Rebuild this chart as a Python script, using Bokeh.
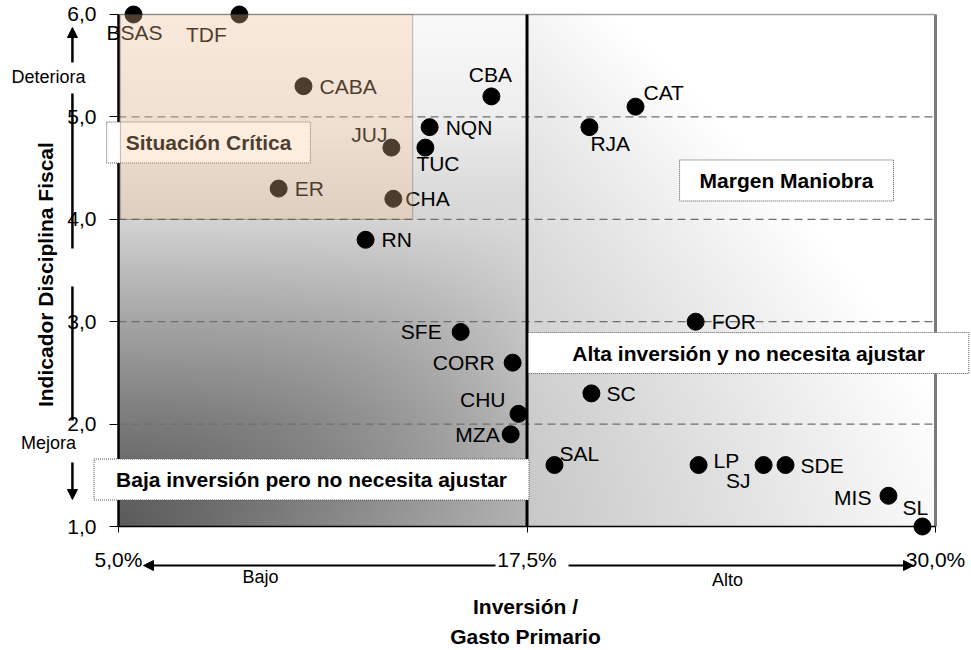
import math
import numpy as np
from bokeh.plotting import figure
from bokeh.models import (Range1d, FixedTicker, ColumnDataSource, Label, LabelSet,
                          Arrow, NormalHead, BoxAnnotation)
from bokeh.core.properties import value
from bokeh.embed import file_html
from bokeh.resources import INLINE

# ---------------- data ----------------
provinces = ["BSAS", "TDF", "CABA", "CBA", "CAT", "NQN", "RJA", "JUJ", "TUC", "ER", "CHA", "RN",
             "FOR", "SFE", "CORR", "SC", "CHU", "MZA", "SAL", "LP", "SJ", "SDE", "MIS", "SL"]
inversion = [5.46, 8.70, 10.66, 16.41, 20.82, 14.52, 19.41, 13.35, 14.39, 9.90, 13.41, 12.56,
             22.66, 15.47, 17.06, 19.47, 17.24, 17.00, 18.34, 22.75, 24.74, 25.41, 28.56, 29.60]
disciplina = [6.0, 6.0, 5.3, 5.2, 5.1, 4.9, 4.9, 4.7, 4.7, 4.3, 4.2, 3.8,
              3.0, 2.9, 2.6, 2.3, 2.1, 1.9, 1.6, 1.6, 1.6, 1.6, 1.3, 1.0]
x_ticks = [5.0, 17.5, 30.0]
x_tick_labels = ["5,0%", "17,5%", "30,0%"]
y_ticks = [1, 2, 3, 4, 5, 6]
y_tick_labels = ["1,0", "2,0", "3,0", "4,0", "5,0", "6,0"]
grid_ticks = [2, 3, 4, 5]
x_split = 17.5                      # vertical divider
critical_x, critical_y = 14.0, 4.0  # "Situación Crítica" zone

# ---------------- label styling (align, dx px, dy px up) ----------------
label_style = {
    "BSAS": ("center", 1, -18), "TDF": ("center", -33, -20), "CABA": ("left", 16, 0),
    "CBA": ("center", -1, 22), "CAT": ("left", 8, 14), "NQN": ("left", 16, 0),
    "RJA": ("left", 1, -16), "JUJ": ("right", -4, 13), "TUC": ("left", -9, -16),
    "ER": ("left", 16, 0), "CHA": ("left", 12, 0), "RN": ("left", 16, 0),
    "FOR": ("left", 16, 0), "SFE": ("right", -19, 0), "CORR": ("right", -18, 0),
    "SC": ("left", 15, 0), "CHU": ("right", -13, 14), "MZA": ("right", -11, 0),
    "SAL": ("left", 5, 12), "LP": ("left", 15, 5), "SJ": ("right", -13, -15),
    "SDE": ("left", 15, 0), "MIS": ("right", -17, -2), "SL": ("center", -7, 19),
}

FONT = "Liberation Sans"

src = ColumnDataSource(dict(
    x=inversion, y=disciplina, name=provinces,
    align=[label_style[n][0] for n in provinces],
    dx=[label_style[n][1] for n in provinces],
    dy=[label_style[n][2] for n in provinces],
))

x0, x1 = x_ticks[0], x_ticks[-1]
y0, y1 = y_ticks[0], y_ticks[-1]

# the frame covers the whole canvas; axes are pinned to the data box
p = figure(width=971, height=650, output_backend="svg", toolbar_location=None,
           x_range=Range1d(1.389, 31.101), y_range=Range1d(-0.2109, 6.1367),
           min_border=0, min_border_left=0, min_border_right=0,
           min_border_top=0, min_border_bottom=0)
p.outline_line_color = None
p.background_fill_color = "white"
p.border_fill_color = "white"

# ---------------- background gradient (styling) ----------------
W, H = 500, 250
U, V = np.meshgrid((np.arange(W) + 0.5) / W, (np.arange(H) + 0.5) / H)
edge = np.interp(V, [0, 0.05, 0.2, 0.4, 0.6, 0.8, 1.0], [90, 96, 122, 165, 212, 238, 250])
M = 90 * np.clip(1 - V / 0.65, 0, 1)
k = 1 + 5 * V
left = edge + M * np.clip(2 * U, 0, 1) ** k
right = 200 + 100 * (U - 0.5) + 45 * V ** 1.5
I = np.clip(np.where(U < 0.5, left, right), 0, 255).astype(np.uint8)
img = np.empty((H, W), dtype=np.uint32)
view = img.view(dtype=np.uint8).reshape((H, W, 4))
view[..., 0] = I
view[..., 1] = I
view[..., 2] = I
view[..., 3] = 255
p.image_rgba(image=[img], x=x0, y=y0, dw=x1 - x0, dh=y1 - y0, level="image")

# ---------------- axes ----------------
p.xaxis.fixed_location = y0
p.yaxis.fixed_location = x0
p.xaxis.bounds = (x0, x1)
p.yaxis.bounds = (y0, y1)
p.xaxis.ticker = FixedTicker(ticks=x_ticks)
p.xaxis.major_label_overrides = dict(zip(x_ticks, x_tick_labels))
p.yaxis.ticker = FixedTicker(ticks=y_ticks)
p.yaxis.major_label_overrides = dict(zip(y_ticks, y_tick_labels))
for ax in (p.xaxis, p.yaxis):
    ax.axis_line_color = None
    ax.minor_tick_line_color = None
    ax.major_tick_line_color = "black"
    ax.major_tick_line_width = 1
    ax.major_label_text_font = FONT
    ax.major_label_text_font_size = "21px"
    ax.major_label_text_color = "black"
p.xaxis.major_tick_in = 0
p.xaxis.major_tick_out = 6
p.xaxis.major_label_standoff = 15
p.yaxis.major_tick_in = 0
p.yaxis.major_tick_out = 9
p.yaxis.major_label_standoff = 13

p.grid.visible = False
for g in grid_ticks:
    p.segment(x0=[x0], y0=[g], x1=[x1], y1=[g], line_color="#6e6e6e",
              line_dash="8 5", line_width=1.2)

# ---------------- frame borders & divider ----------------
p.segment(x0=[x0], y0=[y1], x1=[x1], y1=[y1], line_color="#a0a0a0", line_width=1.5)
p.segment(x0=[x1], y0=[y0], x1=[x1], y1=[y1], line_color="#7a7a7a", line_width=3)
p.segment(x0=[x0], y0=[y0], x1=[x1], y1=[y0], line_color="black", line_width=1.5)
p.segment(x0=[x0], y0=[y0], x1=[x0], y1=[y1], line_color="black", line_width=2.5)
p.segment(x0=[x_split], y0=[y0], x1=[x_split], y1=[y1], line_color="black", line_width=3)

# ---------------- points & labels ----------------
p.scatter("x", "y", source=src, size=17, color="black")
p.add_layout(LabelSet(x="x", y="y", text="name", source=src, x_offset="dx", y_offset="dy",
                      text_align="align", text_baseline="middle", text_font=value(FONT),
                      text_font_size="21px", text_color="black"))

# ---------------- quadrant text boxes ----------------
def box(x, y, text, padx, pady=9):
    p.add_layout(Label(x=x, y=y, text=text, text_align="center", text_baseline="middle",
                       text_font=FONT, text_font_style="bold", text_font_size="21px",
                       text_color="black", background_fill_color="white", background_fill_alpha=1.0,
                       border_line_color="#555555", border_line_dash="1 1", border_line_width=1,
                       padding=dict(left=padx, right=padx, top=pady, bottom=pady)))

box(7.754, 4.750, "Situación Crítica", 19)
box(25.44, 4.379, "Margen Maniobra", 20)
box(24.28, 2.694, "Alta inversión y no necesita ajustar", 44)
box(10.906, 1.459, "Baja inversión pero no necesita ajustar", 22)

# critical zone overlay
p.add_layout(BoxAnnotation(left=x0 + 0.06, right=critical_x, bottom=critical_y, top=y1,
                           fill_color="#f8c594", fill_alpha=0.31,
                           line_color="#404040", line_width=1.2))

# ---------------- side arrows and texts ----------------
def small(x, y, text, size="18px", bold=False, angle=0.0):
    p.add_layout(Label(x=x, y=y, text=text, text_align="center", text_baseline="middle",
                       text_font=FONT, text_font_size=size, text_color="black",
                       text_font_style="bold" if bold else "normal", angle=angle))

def head():
    return NormalHead(size=10, fill_color="black", line_color="black")

ax_x = 3.59
p.add_layout(Arrow(x_start=ax_x, y_start=5.531, x_end=ax_x, y_end=5.873, line_width=2.5, end=head()))
p.segment(x0=[ax_x, ax_x], y0=[5.229, 3.344], x1=[ax_x, ax_x], y1=[3.715, 2.035],
          line_color="black", line_width=2.5)
p.add_layout(Arrow(x_start=ax_x, y_start=1.625, x_end=ax_x, y_end=1.264, line_width=2.5, end=head()))
small(2.858, 5.385, "Deteriora")
small(2.858, 1.811, "Mejora")

p.add_layout(Arrow(x_start=16.536, y_start=0.619, x_end=5.765, y_end=0.619, line_width=2, end=head()))
p.add_layout(Arrow(x_start=18.770, y_start=0.619, x_end=29.326, y_end=0.619, line_width=2, end=head()))
small(9.345, 0.502, "Bajo")
small(23.636, 0.473, "Alto")

# axis titles
small(17.454, 0.219, "Inversión /", size="21px", bold=True)
small(17.454, -0.074, "Gasto Primario", size="21px", bold=True)
small(2.766, 3.46, "Indicador Disciplina Fiscal", size="21px", bold=True, angle=math.pi / 2)

open("out.html", "w").write(file_html(p, INLINE))
